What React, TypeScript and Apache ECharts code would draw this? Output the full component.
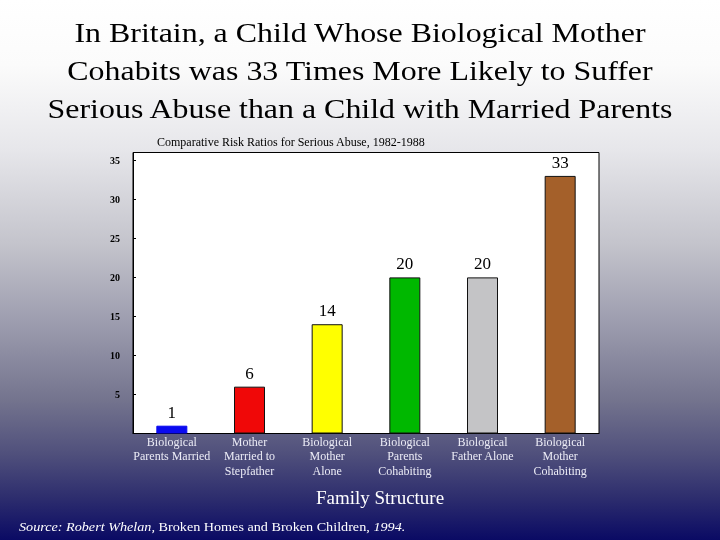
import React, { useEffect, useRef } from "react";
import * as echarts from "echarts";

const categories = [
  "Biological\nParents Married",
  "Mother\nMarried to\nStepfather",
  "Biological\nMother\nAlone",
  "Biological\nParents\nCohabiting",
  "Biological\nFather Alone",
  "Biological\nMother\nCohabiting",
];
const riskRatios = [1, 6, 14, 20, 20, 33];
const barColors = ["#0a0af0", "#f00808", "#ffff00", "#00b800", "#c4c4c6", "#a4602a"];
const titleLines = [
  "In Britain, a Child Whose Biological Mother",
  "Cohabits was 33 Times More Likely to Suffer",
  "Serious Abuse than a Child with Married Parents",
];
const subtitle = "Comparative Risk Ratios for Serious Abuse, 1982-1988";
const xAxisName = "Family Structure";

export default function App() {
  const ref = useRef<HTMLDivElement>(null);
  useEffect(() => {
    const chart = echarts.init(ref.current!, null, { renderer: "svg" });
    const serif = "'Liberation Serif', 'DejaVu Serif', serif";
    chart.setOption({
      animation: false,
      graphic: [
        {
          type: "rect",
          z: -10,
          silent: true,
          shape: { x: 0, y: 0, width: 720, height: 540 },
          style: {
            fill: new echarts.graphic.LinearGradient(0, 0, 0, 1, [
              { offset: 0, color: "#ffffff" },
              { offset: 0.12, color: "#fbfbfb" },
              { offset: 0.28, color: "#e6e6ea" },
              { offset: 0.45, color: "#c4c4cc" },
              { offset: 0.6, color: "#9c9cae" },
              { offset: 0.74, color: "#74748e" },
              { offset: 0.84, color: "#50507c" },
              { offset: 0.92, color: "#2e2e6e" },
              { offset: 1, color: "#0a0a64" },
            ]),
          },
        },
        {
          type: "text",
          x: 360,
          y: 13,
          scaleX: 1.14,
          style: {
            text: titleLines.join("\n"),
            font: `28px ${serif}`,
            fill: "#000",
            lineHeight: 38,
            align: "center",
          },
        },
        {
          type: "text",
          x: 157,
          y: 136,
          style: { text: subtitle, font: `12px ${serif}`, fill: "#000" },
        },
        {
          type: "text",
          x: 380,
          y: 497,
          style: {
            text: xAxisName,
            font: `19px ${serif}`,
            fill: "#ffffff",
            align: "center",
            verticalAlign: "middle",
          },
        },
        {
          type: "text",
          x: 19,
          y: 527,
          scaleX: 1.05,
          style: {
            text: "{i|Source: Robert Whelan,} {n|Broken Homes and Broken Children,} {i|1994.}",
            verticalAlign: "middle",
            rich: {
              i: { font: `italic 13.5px ${serif}`, fill: "#ffffff" },
              n: { font: `13.5px ${serif}`, fill: "#ffffff" },
            },
          },
        },
      ],
      grid: {
        left: 133,
        top: 152.5,
        width: 466,
        height: 281,
        show: true,
        backgroundColor: "#ffffff",
        borderColor: "#000",
        borderWidth: 1,
      },
      xAxis: {
        type: "category",
        data: categories,
        axisLine: { show: true, lineStyle: { color: "#000" } },
        axisTick: { show: false },
        axisLabel: {
          color: "#ececf6",
          fontFamily: serif,
          fontSize: 12,
          lineHeight: 14.5,
          margin: 1,
          interval: 0,
        },
      },
      yAxis: {
        type: "value",
        min: 0,
        max: 36,
        interval: 5,
        splitLine: { show: false },
        axisLine: { show: true, lineStyle: { color: "#000" } },
        axisTick: { show: true, inside: true, length: 3, lineStyle: { color: "#000" } },
        axisLabel: {
          color: "#000",
          fontFamily: serif,
          fontWeight: "bold",
          fontSize: 10,
          margin: 13,
          showMaxLabel: false,
          formatter: (v: number) => (v === 0 ? "" : String(v)),
        },
      },
      series: [
        {
          type: "bar",
          barWidth: 31,
          data: riskRatios.map((v, i) => ({
            value: v,
            itemStyle: {
              color: barColors[i],
              borderColor: i === 0 ? barColors[i] : "#111",
              borderWidth: 1,
            },
          })),
          label: {
            show: true,
            position: "top",
            distance: 5,
            color: "#000",
            fontFamily: serif,
            fontSize: 17,
          },
        },
      ],
    });
    return () => chart.dispose();
  }, []);
  return (
    <div
      ref={ref}
      style={{ position: "fixed", left: 0, top: 0, width: 720, height: 540 }}
    />
  );
}
